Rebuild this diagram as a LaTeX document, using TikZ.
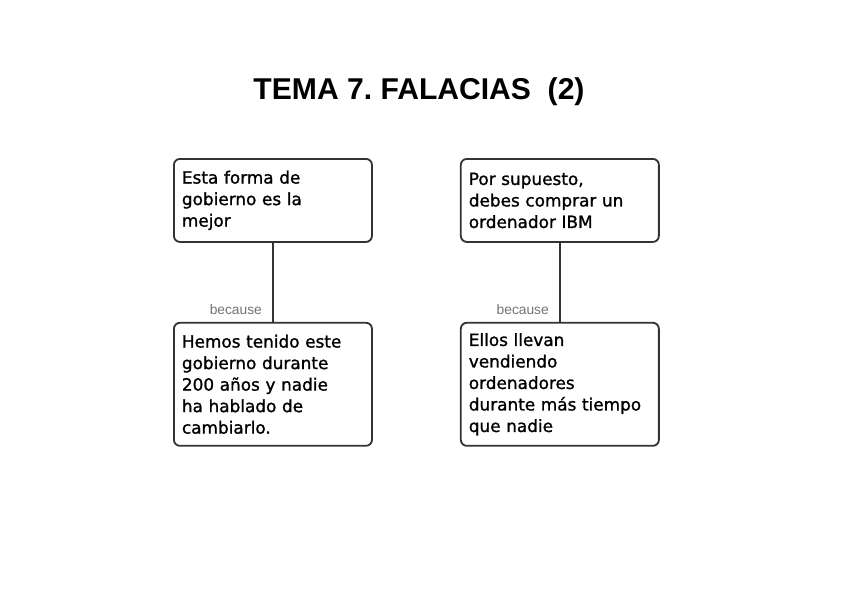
\documentclass[tikz,border=0pt]{standalone}
\usepackage{fontspec}
\newfontfamily\boxfont[UprightFeatures={FakeBold=1.2}]{DejaVu Sans}
\newfontfamily\titlefont{Liberation Sans}
\usetikzlibrary{positioning}

\begin{document}
\begin{tikzpicture}[
    x=0.025cm, y=-0.025cm,
    node distance=1.975cm and 2.175cm,
    every node/.style={font=\boxfont\fontsize{12}{15.3}\selectfont},
    claimbox/.style={rectangle, draw=black!80, line width=1.3pt, rounded corners=0.15cm, fill=white, text width=4.55cm, inner xsep=0.2cm, minimum width=4.95cm, minimum height=2.075cm, align=left},
    reasonbox/.style={claimbox, minimum height=3.075cm},
    link/.style={draw=black!80, line width=1.5pt},
    linklabel/.style={font=\titlefont\fontsize{9.8}{11}\selectfont, text=black!55, inner sep=0pt, anchor=south east, xshift=-0.25cm, yshift=0.15cm}
]
\useasboundingbox (0,0) rectangle (848,599);

% Title
\node[font=\titlefont\bfseries\fontsize{21.4}{25}\selectfont, anchor=base] (title) at (419,99) {TEMA 7.\ FALACIAS~~(2)};

% Left argument
\node[claimbox, anchor=north west] (claimA) at (173,158) {Esta forma de\\gobierno es la\\mejor};
\node[reasonbox, below=of claimA] (reasonA) {Hemos tenido este\\gobierno durante\\200 años y nadie\\ha hablado de\\cambiarlo.};

% Right argument
\node[claimbox, right=of claimA] (claimB) {Por supuesto,\\debes comprar un\\ordenador IBM};
\node[reasonbox, below=of claimB] (reasonB) {Ellos llevan\\vendiendo\\ordenadores\\durante más tiempo\\que nadie};

% Links
\draw[link] (claimA) -- node[linklabel, at end] {because} (reasonA);
\draw[link] (claimB) -- node[linklabel, at end] {because} (reasonB);
\end{tikzpicture}
\end{document}
